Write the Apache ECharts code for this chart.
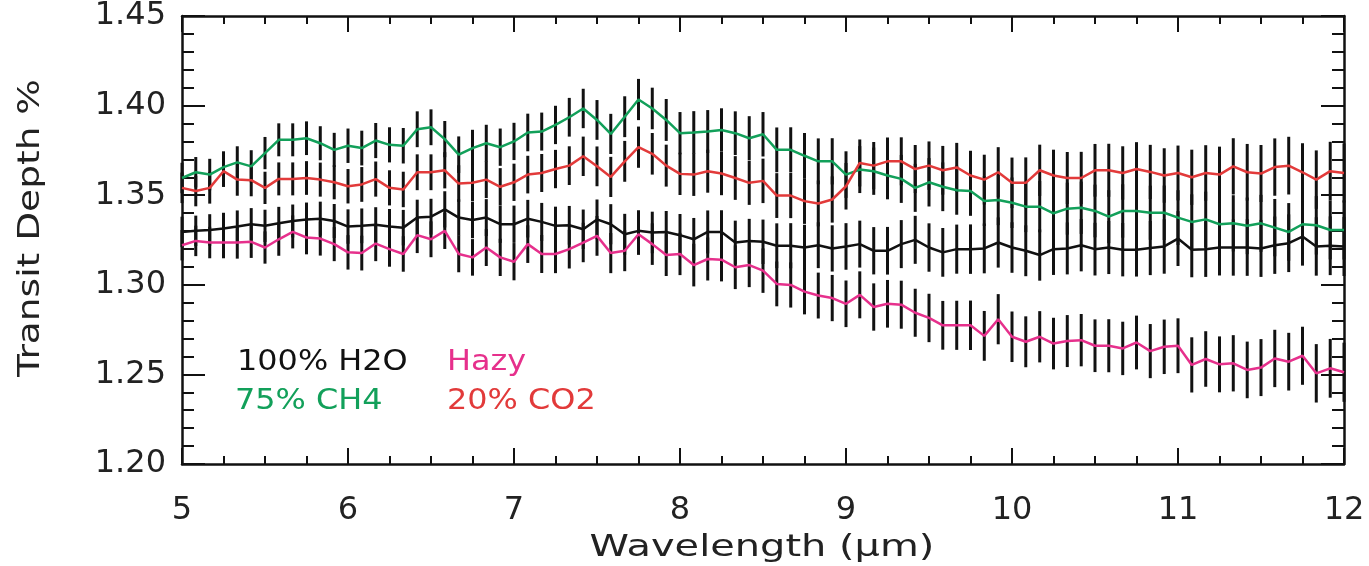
<!DOCTYPE html>
<html>
<head>
<meta charset="utf-8">
<script src="https://cdn.jsdelivr.net/npm/echarts@6/dist/echarts.min.js"></script>
<style>
  html, body { margin: 0; padding: 0; background: #fff; }
  #chart { width: 1369px; height: 566px; }
</style>
</head>
<body>
<div id="chart"></div>
<script>
// wavelength grid (micron)
const wavelength = [
  5.000, 5.083, 5.167, 5.250, 5.333, 5.417, 5.500, 5.583, 5.667, 5.750, 5.833, 5.917,
  6.000, 6.083, 6.167, 6.250, 6.333, 6.417, 6.500, 6.583, 6.667, 6.750, 6.833, 6.917,
  7.000, 7.083, 7.167, 7.250, 7.333, 7.417, 7.500, 7.583, 7.667, 7.750, 7.833, 7.917,
  8.000, 8.083, 8.167, 8.250, 8.333, 8.417, 8.500, 8.583, 8.667, 8.750, 8.833, 8.917,
  9.000, 9.083, 9.167, 9.250, 9.333, 9.417, 9.500, 9.583, 9.667, 9.750, 9.833, 9.917,
  10.000, 10.083, 10.167, 10.250, 10.333, 10.417, 10.500, 10.583, 10.667, 10.750, 10.833, 10.917,
  11.000, 11.083, 11.167, 11.250, 11.333, 11.417, 11.500, 11.583, 11.667, 11.750, 11.833, 11.917,
  12.000
];

// 100% H2O (black)
const h2o = [
  1.3295, 1.3301, 1.3306, 1.3314, 1.3325, 1.3338, 1.3329, 1.3343, 1.3356, 1.3365, 1.3369, 1.3356,
  1.3325, 1.3329, 1.3335, 1.3325, 1.3319, 1.3375, 1.3380, 1.3421, 1.3375, 1.3362, 1.3375, 1.3338,
  1.3338, 1.3369, 1.3351, 1.3329, 1.3332, 1.3310, 1.3365, 1.3338, 1.3282, 1.3301, 1.3292, 1.3295,
  1.3277, 1.3254, 1.3295, 1.3295, 1.3236, 1.3245, 1.3240, 1.3218, 1.3218, 1.3208, 1.3221, 1.3203,
  1.3214, 1.3227, 1.3190, 1.3190, 1.3227, 1.3251, 1.3208, 1.3181, 1.3199, 1.3199, 1.3203, 1.3236,
  1.3208, 1.3190, 1.3166, 1.3199, 1.3203, 1.3221, 1.3199, 1.3208, 1.3196, 1.3196, 1.3205, 1.3214,
  1.3258, 1.3196, 1.3199, 1.3208, 1.3208, 1.3208, 1.3203, 1.3221, 1.3232, 1.3269, 1.3214, 1.3218,
  1.3214
];

// 75% CH4 (green)
const ch4 = [
  1.3596, 1.3628, 1.3615, 1.3657, 1.3683, 1.3661, 1.3735, 1.3809, 1.3809, 1.3818, 1.3790, 1.3753,
  1.3776, 1.3763, 1.3805, 1.3781, 1.3776, 1.3868, 1.3879, 1.3813, 1.3726, 1.3763, 1.3790, 1.3768,
  1.3800, 1.3850, 1.3855, 1.3892, 1.3935, 1.3984, 1.3920, 1.3842, 1.3938, 1.4034, 1.3984, 1.3920,
  1.3846, 1.3850, 1.3855, 1.3864, 1.3846, 1.3818, 1.3840, 1.3753, 1.3753, 1.3720, 1.3689, 1.3689,
  1.3615, 1.3643, 1.3634, 1.3610, 1.3591, 1.3541, 1.3572, 1.3547, 1.3528, 1.3523, 1.3467, 1.3473,
  1.3458, 1.3436, 1.3436, 1.3399, 1.3425, 1.3430, 1.3412, 1.3380, 1.3412, 1.3412, 1.3402, 1.3402,
  1.3375, 1.3351, 1.3365, 1.3338, 1.3343, 1.3329, 1.3343, 1.3319, 1.3295, 1.3338, 1.3332, 1.3306,
  1.3306
];

// Hazy (pink)
const hazy = [
  1.3221, 1.3245, 1.3236, 1.3236, 1.3236, 1.3240, 1.3208, 1.3254, 1.3295, 1.3264, 1.3258, 1.3227,
  1.3181, 1.3177, 1.3230, 1.3199, 1.3172, 1.3277, 1.3254, 1.3301, 1.3172, 1.3153, 1.3208, 1.3153,
  1.3129, 1.3227, 1.3172, 1.3172, 1.3199, 1.3236, 1.3273, 1.3177, 1.3190, 1.3282, 1.3227, 1.3166,
  1.3172, 1.3110, 1.3144, 1.3140, 1.3098, 1.3110, 1.3079, 1.3005, 1.2999, 1.2962, 1.2940, 1.2926,
  1.2894, 1.2944, 1.2876, 1.2894, 1.2889, 1.2844, 1.2815, 1.2774, 1.2774, 1.2774, 1.2715, 1.2808,
  1.2710, 1.2682, 1.2710, 1.2672, 1.2686, 1.2691, 1.2660, 1.2660, 1.2645, 1.2678, 1.2630, 1.2654,
  1.2660, 1.2553, 1.2586, 1.2556, 1.2562, 1.2525, 1.2538, 1.2589, 1.2571, 1.2604, 1.2506, 1.2534,
  1.2512
];

// 20% CO2 (red)
const co2 = [
  1.3541, 1.3523, 1.3541, 1.3634, 1.3587, 1.3584, 1.3541, 1.3591, 1.3591, 1.3596, 1.3587, 1.3572,
  1.3550, 1.3560, 1.3590, 1.3541, 1.3532, 1.3628, 1.3628, 1.3639, 1.3565, 1.3569, 1.3587, 1.3547,
  1.3572, 1.3615, 1.3624, 1.3646, 1.3665, 1.3717, 1.3661, 1.3602, 1.3689, 1.3768, 1.3731, 1.3665,
  1.3619, 1.3615, 1.3634, 1.3621, 1.3596, 1.3569, 1.3580, 1.3498, 1.3498, 1.3467, 1.3454, 1.3476,
  1.3550, 1.3680, 1.3665, 1.3689, 1.3689, 1.3646, 1.3665, 1.3639, 1.3655, 1.3610, 1.3587, 1.3628,
  1.3569, 1.3569, 1.3639, 1.3610, 1.3596, 1.3596, 1.3639, 1.3639, 1.3624, 1.3646, 1.3630, 1.3610,
  1.3624, 1.3600, 1.3624, 1.3615, 1.3661, 1.3628, 1.3621, 1.3657, 1.3665, 1.3628, 1.3587, 1.3634,
  1.3624
];

// half length of the error bars
const errBar = [
  0.0085, 0.0085, 0.0088, 0.0088, 0.0090, 0.0090, 0.0090, 0.0092, 0.0092, 0.0094, 0.0095, 0.0095,
  0.0096, 0.0097, 0.0098, 0.0098, 0.0099, 0.0100, 0.0100, 0.0101, 0.0102, 0.0102, 0.0103, 0.0104,
  0.0104, 0.0105, 0.0106, 0.0107, 0.0108, 0.0110, 0.0111, 0.0112, 0.0114, 0.0115, 0.0116, 0.0117,
  0.0118, 0.0119, 0.0120, 0.0121, 0.0122, 0.0123, 0.0124, 0.0125, 0.0126, 0.0127, 0.0128, 0.0129,
  0.0130, 0.0131, 0.0132, 0.0133, 0.0134, 0.0134, 0.0135, 0.0136, 0.0137, 0.0138, 0.0139, 0.0140,
  0.0141, 0.0142, 0.0143, 0.0144, 0.0145, 0.0146, 0.0147, 0.0148, 0.0149, 0.0150, 0.0151, 0.0152,
  0.0153, 0.0154, 0.0155, 0.0156, 0.0157, 0.0158, 0.0159, 0.0160, 0.0161, 0.0162, 0.0163, 0.0164,
  0.0165
];

const FONT = "DejaVu Sans";
const chart = echarts.init(document.getElementById("chart"));

const models = [
  { name: "100% H2O", data: h2o, color: "#111111" },
  { name: "75% CH4", data: ch4, color: "#12a05a" },
  { name: "Hazy", data: hazy, color: "#e6308c" },
  { name: "20% CO2", data: co2, color: "#e23a3a" },
];

function errorBars(params, api) {
  const x = api.value(0);
  const lo = api.coord([x, api.value(1)]);
  const hi = api.coord([x, api.value(2)]);
  return {
    type: "line",
    shape: { x1: lo[0], y1: lo[1], x2: hi[0], y2: hi[1] },
    style: { stroke: "#111", lineWidth: 3 },
  };
}

const series = [];
models.forEach((m) => {
  series.push({
    type: "custom",
    name: m.name + " err",
    renderItem: errorBars,
    z: 2,
    silent: true,
    data: wavelength.map((x, i) => [x, m.data[i] - errBar[i], m.data[i] + errBar[i]]),
  });
});
models.forEach((m) => {
  series.push({
    type: "line",
    name: m.name,
    symbol: "none",
    z: 5,
    lineStyle: { color: m.color, width: 2.5 },
    data: wavelength.map((x, i) => [x, m.data[i]]),
  });
});

const tickStyle = { color: "#111", width: 2 };
const xBase = {
  type: "value",
  min: 5,
  max: 12,
  interval: 1,
  axisLine: { show: true, onZero: false, lineStyle: { color: "#111", width: 2.5 } },
  axisTick: { show: true, inside: true, length: 16, lineStyle: tickStyle },
  minorTick: { show: true, splitNumber: 4, length: 8, lineStyle: tickStyle },
  splitLine: { show: false },
};
const yBase = {
  type: "value",
  min: 1.2,
  max: 1.45,
  interval: 0.05,
  axisLine: { show: true, onZero: false, lineStyle: { color: "#111", width: 2.5 } },
  axisTick: { show: true, inside: true, length: 23, lineStyle: tickStyle },
  minorTick: { show: true, splitNumber: 5, length: 12, lineStyle: tickStyle },
  splitLine: { show: false },
};

// texts with the wide spacing of the original plotting font
function label(text, x, y, color, size, sx, extra) {
  return Object.assign({
    type: "text",
    x: x,
    y: y,
    scaleX: sx,
    style: { text: text, fill: color, font: size + "px " + FONT, align: "left", verticalAlign: "middle" },
  }, extra || {});
}

chart.setOption({
  animation: false,
  grid: { left: 182, right: 25, top: 12, bottom: 102 },
  xAxis: [
    Object.assign({}, xBase, {
      position: "bottom",
      axisLabel: { margin: 31, fontFamily: FONT, fontSize: 32, color: "#222" },
    }),
    Object.assign({}, xBase, { position: "top", axisLabel: { show: false } }),
  ],
  yAxis: [
    Object.assign({}, yBase, {
      position: "left",
      axisLabel: {
        margin: 16,
        fontFamily: FONT,
        fontSize: 32,
        color: "#222",
        formatter: (v) => v.toFixed(2),
      },
    }),
    Object.assign({}, yBase, { position: "right", axisLabel: { show: false } }),
  ],
  graphic: [
    {
      type: "text", x: 762, y: 548, scaleX: 1.33,
      style: { text: "Wavelength (\u03bcm)", fill: "#222", font: "30px " + FONT, align: "center", verticalAlign: "middle" },
    },
    {
      type: "text", x: 31, y: 228, scaleX: 1.25, rotation: Math.PI / 2,
      style: { text: "Transit Depth %", fill: "#222", font: "30px " + FONT, align: "center", verticalAlign: "middle" },
    },
    label("100% H2O", 237, 362, "#111", 29, 1.1),
    label("75% CH4", 235, 401, "#12a05a", 29, 1.1),
    label("Hazy", 447, 362, "#e6308c", 29, 1.1),
    label("20% CO2", 447, 401, "#e23a3a", 29, 1.1),
  ],
  series: series,
});
</script>
</body>
</html>
